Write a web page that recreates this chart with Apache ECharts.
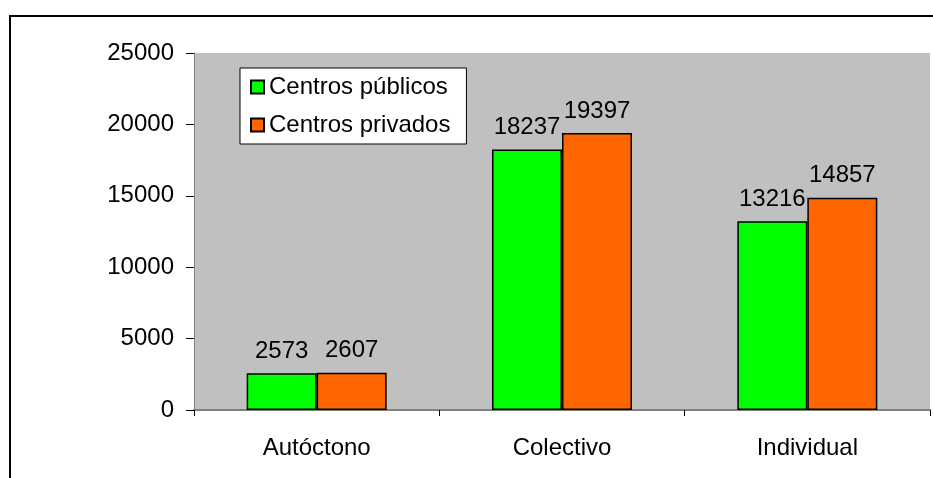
<!DOCTYPE html>
<html>
<head>
<meta charset="utf-8">
<script src="https://cdn.jsdelivr.net/npm/echarts@6/dist/echarts.min.js"></script>
<style>
  html, body { margin: 0; padding: 0; background: #fff; }
  #chart { width: 933px; height: 478px; }
</style>
</head>
<body>
<div id="chart"></div>
<script>
// datos
var categorias = ["Autóctono", "Colectivo", "Individual"];
var publicos = [2573, 18237, 13216];
var privados = [2607, 19397, 14857];
var nombres = ["Centros públicos", "Centros privados"];
var ticksY = [0, 5000, 10000, 15000, 20000, 25000];

var fuente = "'Liberation Sans', Arial, sans-serif";
var myChart = echarts.init(document.getElementById("chart"));

var etiqueta = {
  show: true,
  position: "top",
  distance: 10,
  color: "#000",
  fontSize: 24,
  fontFamily: fuente
};

myChart.setOption({
  animation: false,
  graphic: [{
    type: "rect",
    shape: { x: 10, y: 16, width: 960, height: 500 },
    style: { fill: "none", stroke: "#000", lineWidth: 2 },
    z: 100
  }],
  grid: {
    left: 194,
    right: 3,
    top: 53,
    bottom: 68,
    show: true,
    backgroundColor: "#C0C0C0",
    borderWidth: 0
  },
  legend: {
    orient: "vertical",
    left: 240,
    top: 68,
    backgroundColor: "#fff",
    borderColor: "#000",
    borderWidth: 1,
    padding: [7, 16, 7, 10],
    itemGap: 14,
    itemWidth: 13,
    itemHeight: 13,
    icon: "rect",
    textStyle: { fontSize: 24, color: "#000", fontFamily: fuente },
    data: nombres
  },
  xAxis: {
    type: "category",
    data: categorias,
    axisLine: { lineStyle: { color: "#808080", width: 2 } },
    axisTick: { show: true, length: 6, lineStyle: { color: "#000" } },
    axisLabel: { color: "#000", fontSize: 24, margin: 26, fontFamily: fuente }
  },
  yAxis: {
    type: "value",
    min: 0,
    max: 25000,
    interval: 5000,
    splitLine: { show: false },
    axisLine: { show: true, lineStyle: { color: "#808080", width: 1 } },
    axisTick: { show: true, length: 8, lineStyle: { color: "#000" } },
    axisLabel: {
      color: "#000", fontSize: 24, margin: 20, fontFamily: fuente,
      formatter: function (v) { return ticksY.indexOf(v) >= 0 ? String(v) : ""; }
    }
  },
  series: [{
    name: nombres[0],
    type: "bar",
    data: publicos,
    barWidth: 70,
    barGap: "0%",
    itemStyle: { color: "#00FF00", borderColor: "#000", borderWidth: 1.5 },
    label: etiqueta
  }, {
    name: nombres[1],
    type: "bar",
    data: privados,
    barWidth: 70,
    itemStyle: { color: "#FF6600", borderColor: "#000", borderWidth: 1.5 },
    label: etiqueta
  }]
});
</script>
</body>
</html>
